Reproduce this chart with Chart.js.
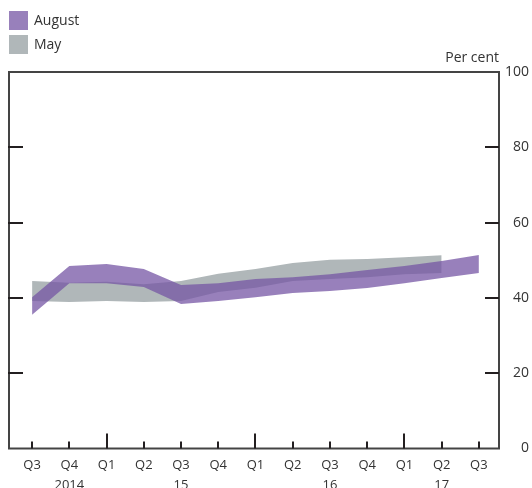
<!DOCTYPE html>
<html>
<head>
<meta charset="utf-8">
<script src="https://cdn.jsdelivr.net/npm/chart.js@4"></script>
<style>
  html, body { margin: 0; padding: 0; background: #fff; }
  #wrap { width: 532px; height: 488px; }
</style>
</head>
<body>
<div id="wrap"><canvas id="chart" width="532" height="488"></canvas></div>
<script>
// quarters from Q3 2014 to Q3 2017
var quarters = ['Q3', 'Q4', 'Q1', 'Q2', 'Q3', 'Q4', 'Q1', 'Q2', 'Q3', 'Q4', 'Q1', 'Q2', 'Q3'];
var years = ['', '2014', '', '', '15', '', '', '', '16', '', '', '17', ''];

// August band (upper / lower edge), per cent
var augustHigh = [40.2, 48.5, 49.0, 47.7, 43.4, 43.9, 45.0, 45.5, 46.3, 47.4, 48.5, 49.8, 51.4];
var augustLow  = [35.5, 43.9, 43.9, 42.9, 38.4, 39.2, 40.2, 41.3, 41.8, 42.6, 43.9, 45.3, 46.6];

// May band, ends one quarter earlier
var mayHigh = [44.5, 44.0, 44.3, 43.6, 44.5, 46.4, 47.7, 49.3, 50.1, 50.3, 50.8, 51.3];
var mayLow  = [39.2, 38.9, 39.2, 38.9, 39.2, 41.6, 42.7, 44.5, 45.0, 45.5, 46.3, 46.6];

var yTicks = [0, 20, 40, 60, 80, 100];

var purple = 'rgba(118, 86, 164, 0.75)';
var grey = 'rgb(176, 183, 185)';
var ink = '#333333';
var fontFamily = "'Open Sans', 'Noto Sans', sans-serif";

function pts(arr) {
    return arr.map((v, i) => ({ x: i, y: v }));
}

function band(data, color, fill) {
    return {
        data: pts(data),
        borderWidth: 0,
        borderColor: 'transparent',
        pointRadius: 0,
        tension: 0,
        backgroundColor: color,
        fill: fill
    };
}

var decor = {
    id: 'decor',
    afterDraw(chart) {
        let ctx = chart.ctx;
        let a = chart.chartArea;
        let xs = chart.scales.x;
        let ys = chart.scales.y;

        ctx.save();

        // frame
        ctx.strokeStyle = '#444';
        ctx.lineWidth = 2;
        ctx.strokeRect(a.left, a.top, a.right - a.left, a.bottom - a.top);

        // y ticks on both sides, pointing in
        ctx.strokeStyle = '#231f20';
        ctx.lineWidth = 2;
        yTicks.forEach(v => {
            if (v === 0 || v === 100) return;
            let y = Math.round(ys.getPixelForValue(v));
            ctx.beginPath();
            ctx.moveTo(a.left - 1, y);
            ctx.lineTo(a.left + 14, y);
            ctx.moveTo(a.right - 14, y);
            ctx.lineTo(a.right, y);
            ctx.stroke();
        });

        // y labels on the right
        ctx.fillStyle = ink;
        ctx.font = '14px ' + fontFamily;
        ctx.textAlign = 'right';
        ctx.textBaseline = 'middle';
        yTicks.forEach(v => {
            ctx.fillText(String(v), 529, ys.getPixelForValue(v));
        });
        ctx.fillText('Per cent', 499, 58);

        // x ticks, longer at Q1
        quarters.forEach((q, i) => {
            let x = Math.round(xs.getPixelForValue(i));
            let len = q === 'Q1' ? 15 : 7;
            ctx.beginPath();
            ctx.moveTo(x, a.bottom);
            ctx.lineTo(x, a.bottom - len);
            ctx.stroke();
        });

        // x labels
        ctx.font = '13px ' + fontFamily;
        ctx.textAlign = 'center';
        quarters.forEach((q, i) => {
            let x = xs.getPixelForValue(i);
            ctx.fillText(q, x, 465);
            if (years[i]) ctx.fillText(years[i], x, 485);
        });

        // legend
        ctx.textAlign = 'left';
        ctx.font = '14px ' + fontFamily;
        ctx.fillStyle = 'rgb(152, 128, 187)';
        ctx.fillRect(9, 11, 19, 19);
        ctx.fillStyle = grey;
        ctx.fillRect(9, 35, 19, 19);
        ctx.fillStyle = ink;
        ctx.fillText('August', 34, 21);
        ctx.fillText('May', 34, 45);

        ctx.restore();
    }
};

var chart = new Chart(document.getElementById('chart').getContext('2d'), {
    type: 'line',
    data: {
        datasets: [
            band(augustHigh, purple, '+1'),
            band(augustLow, purple, false),
            band(mayHigh, grey, '+1'),
            band(mayLow, grey, false)
        ]
    },
    options: {
        responsive: false,
        animation: false,
        layout: { padding: { left: 9, right: 33, top: 72, bottom: 39.5 } },
        plugins: {
            legend: { display: false },
            tooltip: { enabled: false }
        },
        scales: {
            x: { type: 'linear', min: -0.62, max: 12.54, display: false },
            y: { min: 0, max: 100, display: false }
        }
    },
    plugins: [decor]
});
</script>
</body>
</html>
